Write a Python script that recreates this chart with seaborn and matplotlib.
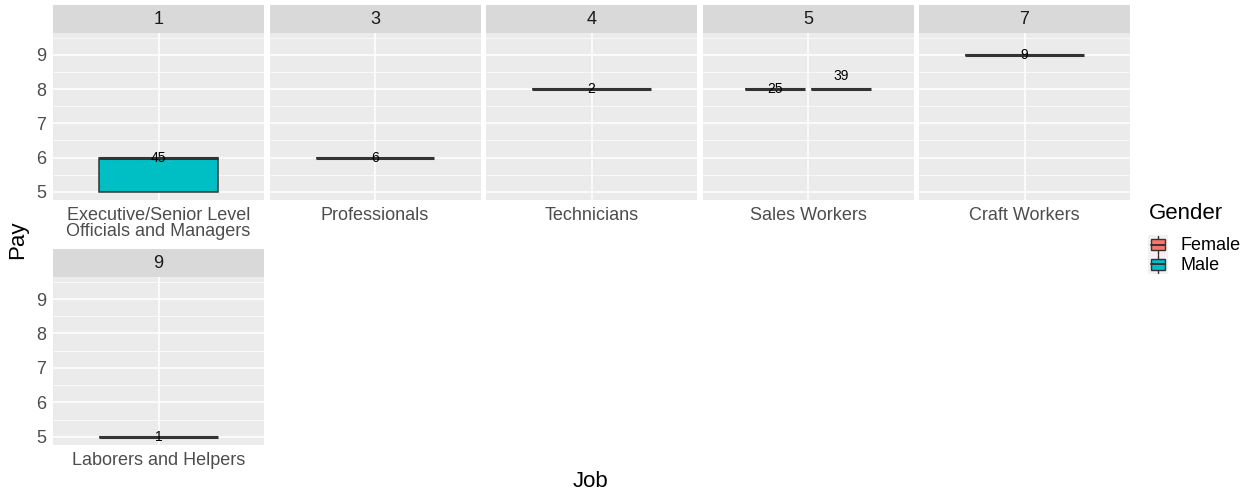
import numpy as np
import pandas as pd
import matplotlib
matplotlib.use("Agg")
import matplotlib.pyplot as plt
from matplotlib.patches import Rectangle
import seaborn as sns

sns.set_style("white")
plt.rcParams["font.family"] = ["Liberation Sans", "DejaVu Sans"]

# Pay records, one row per (facet, job, gender, pay level) with its head count
facet = [1, 1, 3, 4, 5, 5, 7, 9]
job = ["Executive/Senior Level\nOfficials and Managers",
       "Executive/Senior Level\nOfficials and Managers",
       "Professionals", "Technicians", "Sales Workers", "Sales Workers",
       "Craft Workers", "Laborers and Helpers"]
gender = ["Male", "Male", "Male", "Male", "Female", "Male", "Male", "Male"]
pay = [5, 6, 6, 8, 8, 8, 9, 5]
n_people = [15, 30, 6, 2, 25, 39, 9, 1]

# Count labels: group, label height
label_facet = [1, 3, 4, 5, 5, 7, 9]
label_gender = ["Male", "Male", "Male", "Female", "Male", "Male", "Male"]
label_y = [6, 6, 8, 8, 8.38, 9, 5]

gender_order = ["Female", "Male"]
palette = {"Female": "#F8766D", "Male": "#00BFC4"}

df = pd.DataFrame({
    "Facet": np.repeat(facet, n_people),
    "Job": np.repeat(job, n_people),
    "Gender": np.repeat(gender, n_people),
    "Pay": np.repeat(pay, n_people),
})

W, H = 1249, 494
fig = plt.figure(figsize=(W / 100, H / 100), dpi=100)


def px_axes(x0, y0, x1, y1):
    return fig.add_axes([x0 / W, 1 - y1 / H, (x1 - x0) / W, (y1 - y0) / H])


panel_w = 211
step = 216.5
rows = [(5, 33, 200), (249, 277, 445)]
facets = [1, 3, 4, 5, 7, 9]
ylim = (4.76, 9.64)
box_width = 0.75
text_size = 13

for i, f in enumerate(facets):
    r, c = divmod(i, 5)
    s0, p0, p1 = rows[r]
    x0 = 53 + c * step
    x1 = x0 + panel_w
    # strip
    sax = px_axes(x0, s0, x1, p0)
    sax.set_facecolor("#D9D9D9")
    sax.set_xticks([])
    sax.set_yticks([])
    for sp in sax.spines.values():
        sp.set_visible(False)
    sax.text(0.5, 0.5, str(f), ha="center", va="center", fontsize=text_size,
             color="#1A1A1A", transform=sax.transAxes)

    ax = px_axes(x0, p0, x1, p1)
    ax.set_facecolor("#EBEBEB")
    sub = df[df["Facet"] == f]
    sns.boxplot(data=sub, x="Job", y="Pay", hue="Gender", hue_order=gender_order,
                palette=palette, saturation=1, width=box_width, gap=0.1,
                linecolor="#333333", linewidth=1.1, showcaps=False,
                medianprops={"linewidth": 2.2, "color": "#333333"},
                legend=False, ax=ax, zorder=3)
    ax.set_xlim(-0.6, 0.6)
    ax.set_ylim(*ylim)
    ax.set_yticks([5, 6, 7, 8, 9])
    ax.set_yticks([5.5, 6.5, 7.5, 8.5, 9.5], minor=True)
    ax.grid(True, which="major", color="white", linewidth=1.1, zorder=0)
    ax.grid(True, which="minor", axis="y", color="white", linewidth=0.5, zorder=0)
    ax.set_axisbelow(True)
    for sp in ax.spines.values():
        sp.set_visible(False)
    ax.set_xlabel("")
    ax.set_ylabel("")
    ax.tick_params(axis="x", length=3, color="#333333", labelsize=text_size,
                   labelcolor="#4D4D4D", pad=2)
    for lbl in ax.get_xticklabels():
        lbl.set_linespacing(0.9)
    if c == 0:
        ax.tick_params(axis="y", which="major", length=3, color="#333333",
                       labelsize=text_size, labelcolor="#4D4D4D", pad=2)
    else:
        ax.tick_params(axis="y", which="major", length=0, labelleft=False)
    ax.tick_params(axis="y", which="minor", length=0)

    # count labels
    present = [g for g in gender_order if g in set(sub["Gender"])]
    for lf, lg, ly in zip(label_facet, label_gender, label_y):
        if lf != f:
            continue
        cnt = int((sub["Gender"] == lg).sum())
        if len(present) > 1:
            xpos = (present.index(lg) - (len(present) - 1) / 2) * box_width / len(present)
        else:
            xpos = 0
        ax.text(xpos, ly, str(cnt), ha="center", va="center", fontsize=10,
                color="black", zorder=5)

fig.text(18 / W, 1 - 240 / H, "Pay", rotation=90, ha="center", va="center",
         fontsize=16, color="black")
fig.text(591 / W, 1 - 481 / H, "Job", ha="center", va="center",
         fontsize=16, color="black")

# Legend: title, boxplot-style keys and labels
fig.text(1149 / W, 1 - 213 / H, "Gender", ha="left", va="center",
         fontsize=16, color="black")
kax = px_axes(1148, 235, 1168, 274)
kax.set_facecolor("#F2F2F2")
kax.set_xlim(0, 1)
kax.set_ylim(0, 2)
kax.set_xticks([])
kax.set_yticks([])
for sp in kax.spines.values():
    sp.set_visible(False)
for k, g in enumerate(gender_order):
    yc = 1.5 - k
    kax.plot([0.5, 0.5], [yc - 0.45, yc + 0.45], color="#333333", lw=1.0)
    kax.add_patch(Rectangle((0.15, yc - 0.27), 0.7, 0.54, facecolor=palette[g],
                            edgecolor="#333333", lw=1.0, zorder=3))
    kax.plot([0.15, 0.85], [yc, yc], color="#333333", lw=1.4, zorder=4)
    fig.text(1181 / W, 1 - (245 + 20 * k) / H, g, ha="left", va="center",
             fontsize=text_size, color="black")

fig.savefig("out.png", dpi=100)
